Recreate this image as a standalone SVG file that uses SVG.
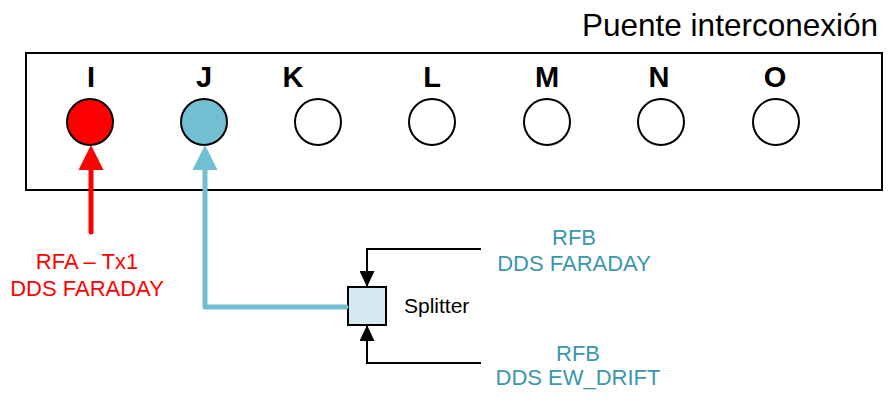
<svg xmlns="http://www.w3.org/2000/svg" width="889" height="405" viewBox="0 0 889 405">
<style>
text{font-family:"Liberation Sans",Arial,sans-serif}
.lbl{font-size:29px;font-weight:bold;text-anchor:middle;fill:#000}
.port{stroke:#000;stroke-width:2;fill:#fff}
.red{fill:#ff0000;font-size:22px;text-anchor:middle}
.teal{fill:#3a97ad;font-size:22px;text-anchor:middle}
</style>
<defs>
<marker id="ah" markerWidth="16" markerHeight="15" refX="16" refY="7.5" orient="auto" markerUnits="userSpaceOnUse" viewBox="0 0 16 15">
<path d="M0,0 L16,7.5 L0,15 Z" fill="#000"/>
</marker>
</defs>
<g id="bridge">
<rect x="26" y="53" width="856" height="137" fill="#fff" stroke="#000" stroke-width="2"/>
<text x="878" y="36" font-size="31.5" text-anchor="end">Puente interconexión</text>
</g>
<g id="port-I"><text class="lbl" x="91" y="87">I</text><circle class="port" cx="90" cy="122" r="23" style="fill:#ff0000"/></g>
<g id="port-J"><text class="lbl" x="204" y="87">J</text><circle class="port" cx="204" cy="122" r="23" style="fill:#72bfd1"/></g>
<g id="port-K"><text class="lbl" x="293" y="87">K</text><circle class="port" cx="318" cy="122" r="23"/></g>
<g id="port-L"><text class="lbl" x="432" y="87">L</text><circle class="port" cx="432" cy="122" r="23"/></g>
<g id="port-M"><text class="lbl" x="547" y="87">M</text><circle class="port" cx="547" cy="122" r="23"/></g>
<g id="port-N"><text class="lbl" x="659" y="87">N</text><circle class="port" cx="661" cy="122" r="23"/></g>
<g id="port-O"><text class="lbl" x="775" y="87">O</text><circle class="port" cx="776" cy="122" r="23"/></g>
<g id="splitter">
<rect x="348" y="287" width="38" height="38" fill="#d4eaf0" stroke="#000" stroke-width="2"/>
<text x="404" y="313" font-size="21">Splitter</text>
</g>
<g id="src-rfa">
<text class="red" x="87" y="269">RFA – Tx1</text>
<text class="red" x="87" y="296">DDS FARADAY</text>
</g>
<g id="src-rfb1">
<text class="teal" x="574" y="245">RFB</text>
<text class="teal" x="574" y="271">DDS FARADAY</text>
</g>
<g id="src-rfb2">
<text class="teal" x="578" y="361">RFB</text>
<text class="teal" x="578" y="385">DDS EW_DRIFT</text>
</g>
<g id="connectors">
<line x1="91" y1="232" x2="91" y2="165" stroke="#ff0000" stroke-width="5" stroke-linecap="round"/>
<path d="M78.5,170 L91,145 L103.5,170 Z" fill="#ff0000"/>
<path d="M346,307 L205,307 L205,165" fill="none" stroke="#72bfd1" stroke-width="5" stroke-linejoin="round" stroke-linecap="round"/>
<path d="M192.5,170 L205,145 L217.5,170 Z" fill="#72bfd1"/>
<path d="M481,249 L367,249 L367,287" fill="none" stroke="#000" stroke-width="2" marker-end="url(#ah)"/>
<path d="M481,363 L367,363 L367,325" fill="none" stroke="#000" stroke-width="2" marker-end="url(#ah)"/>
</g>
</svg>
